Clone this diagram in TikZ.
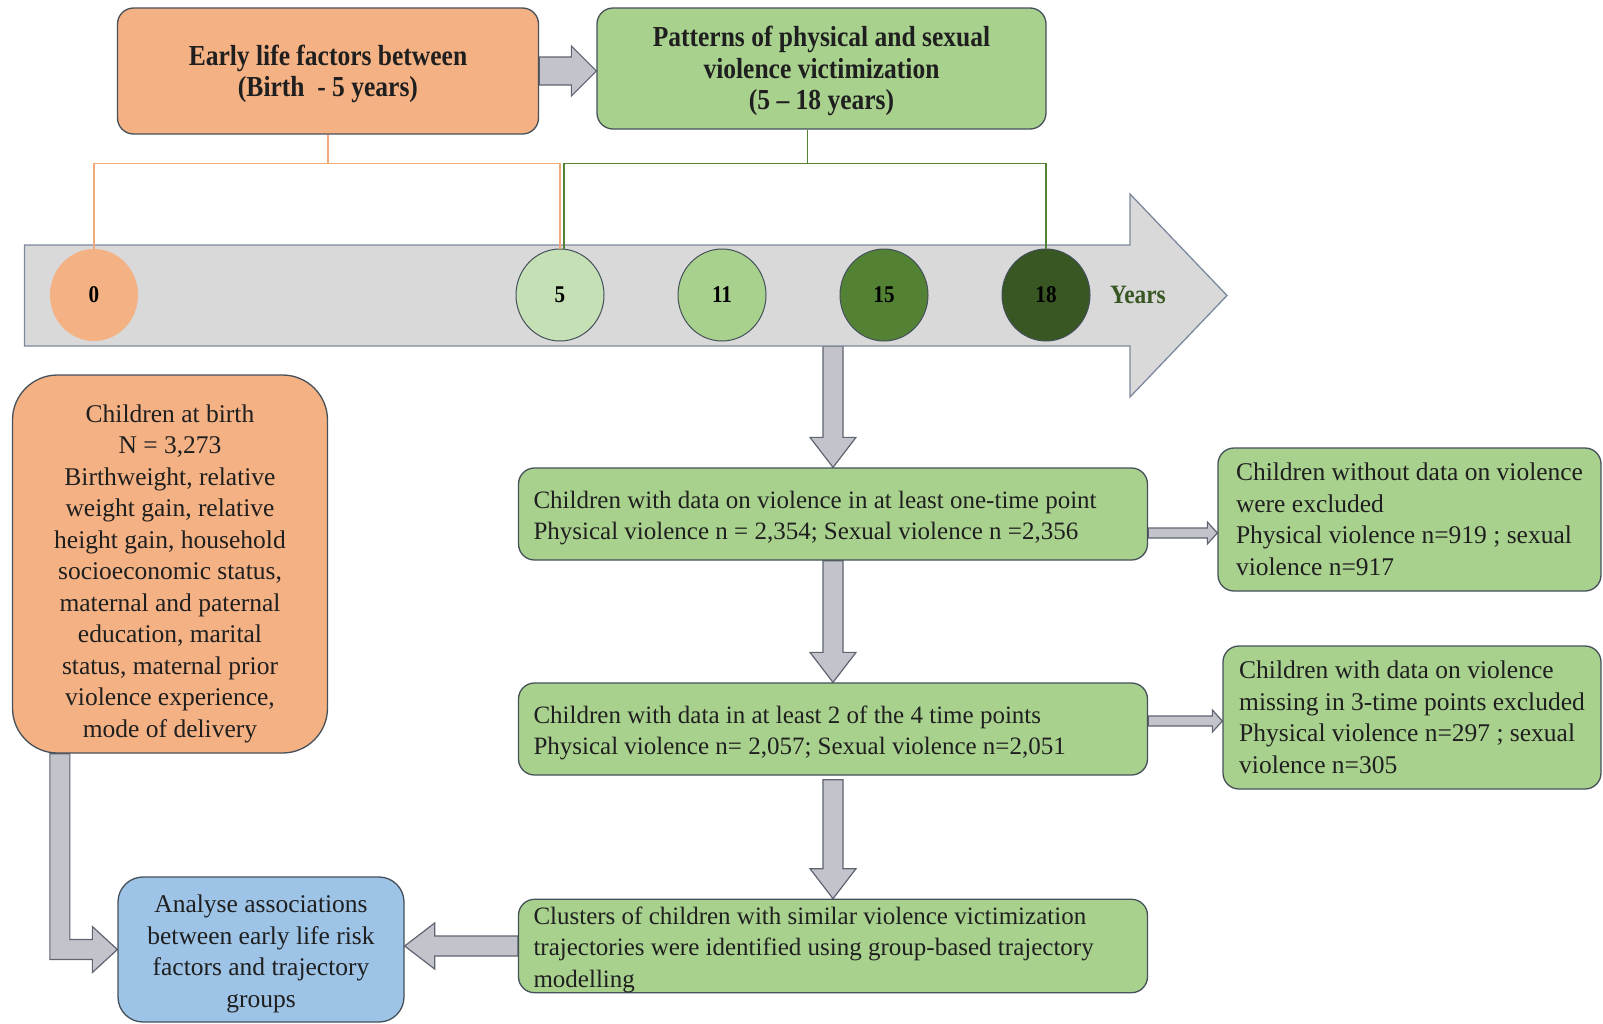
\documentclass[tikz,border=0pt]{standalone}
\usepackage{fontspec}
\setmainfont{Liberation Serif}
\newfontfamily\headfont[FakeStretch=0.88]{Liberation Serif}
\usetikzlibrary{shapes.geometric, positioning, calc, backgrounds}
\definecolor{early}{HTML}{F4B183}
\definecolor{earlyline}{HTML}{F0AA7A}
\definecolor{pattern}{HTML}{A9D18E}
\definecolor{analysis}{HTML}{9DC3E6}
\definecolor{outline}{HTML}{45505A}
\definecolor{age5}{HTML}{C5E0B4}
\definecolor{age11}{HTML}{A9D18E}
\definecolor{age15}{HTML}{548235}
\definecolor{age18}{HTML}{385723}
\definecolor{timeline}{HTML}{D9D9D9}
\definecolor{timeedge}{HTML}{7C889C}
\definecolor{arrowfill}{HTML}{C3C4CB}
\definecolor{arrowedge}{HTML}{5E6470}

\begin{document}
\begin{tikzpicture}[
            x=1pt, y=-1pt,
            box/.style={rectangle, rounded corners=16pt, draw=outline, line width=1.3pt, text=black!88, inner sep=0pt, font=\fontsize{25.5}{31.5}\selectfont},
            headbox/.style={box, font=\headfont\bfseries\fontsize{29}{31.5}\selectfont, align=center},
            flowbox/.style={box, fill=pattern, minimum width=629pt, minimum height=92pt, text width=599pt, align=flush left, font=\fontsize{25}{31.5}\selectfont},
            exclbox/.style={box, fill=pattern, minimum height=143pt, align=left},
            age/.style={ellipse, minimum width=88pt, minimum height=92pt, draw=outline, line width=1pt, inner sep=0pt, font=\headfont\bfseries\fontsize{24}{28}\selectfont},
            blockarrow/.style={draw=arrowedge, fill=arrowfill, line width=1.2pt, line join=miter},
            bracket/.style={line width=1.2pt}
        ]
            \useasboundingbox (0,0) rectangle (1603,1023);

            % Timeline
            \draw[draw=timeedge, fill=timeline, line width=1.3pt] (24.5,245) -- (1130,245) -- (1130,194) -- (1227,295.5) -- (1130,397) -- (1130,346) -- (24.5,346) -- cycle;
            \coordinate (tlbottom) at (833,346);

            \node[age, fill=early, draw=none] (y0) at (94,295) {0};
            \node[age, fill=age5] (y5) at (560,295) {5};
            \node[age, fill=age11] (y11) at (722,295) {11};
            \node[age, fill=age15] (y15) at (884,295) {15};
            \node[age, fill=age18] (y18) at (1046,295) {18};
            \node[font=\headfont\bfseries\fontsize{26.5}{30}\selectfont, text=age18, right=16pt of y18] (years) {Years};

            % Nodes
            \node[headbox, fill=early, minimum width=421pt, minimum height=126pt] (earlylife) at (328,71) {\rule{0pt}{26pt}Early life factors between\\(Birth\ \ - 5 years)};
            \node[headbox, fill=pattern, minimum width=449pt, minimum height=121pt] (patterns) at (821.5,68.5) {\rule{0pt}{26pt}Patterns of physical and sexual\\violence victimization\\(5 – 18 years)};

            \node[box, fill=early, rounded corners=45pt, minimum width=315pt, minimum height=378pt, align=center] (birth) at (170,564) {\rule{0pt}{37pt}Children at birth\\N = 3,273\\Birthweight, relative\\weight gain, relative\\height gain, household\\socioeconomic status,\\maternal and paternal\\education, marital\\status, maternal prior\\violence experience,\\mode of delivery};
            \node[box, fill=analysis, rounded corners=25pt, minimum width=286pt, minimum height=145pt, align=center] (analyse) at (261,949.5) {\rule{0pt}{26pt}Analyse associations\\between early life risk\\factors and trajectory\\groups};

            \node[flowbox] (atleastone) at (833,514) {\rule{0pt}{25pt}Children with data on violence in at least one-time point\\Physical violence n = 2,354; Sexual violence n =2,356};
            \node[flowbox] (atleasttwo) at (833,729) {\rule{0pt}{25pt}Children with data in at least 2 of the 4 time points\\Physical violence n= 2,057; Sexual violence n=2,051};
            \node[flowbox] (clusters) at (833,946) {\rule{0pt}{25pt}Clusters of children with similar violence victimization\\trajectories were identified using group-based trajectory\\modelling};

            \node[exclbox, minimum width=383pt] (excl1) at (1409.5,519.5) {Children without data on violence\\were excluded\\Physical violence n=919 ; sexual\\violence n=917};
            \node[exclbox, minimum width=378pt] (excl2) at (1412,717.5) {Children with data on violence\\missing in 3-time points excluded\\Physical violence n=297 ; sexual\\violence n=305};

            % Brackets
            \draw[bracket, draw=earlyline] (y0.north) |- ($(earlylife.south)+(0,29)$) -| (y5.north) (earlylife.south) -- ++(0,29);
            \draw[bracket, draw=age15] ([xshift=4pt]y5.north) |- ($(patterns.south)+(-14,34)$) -| (y18.north) (patterns.south) ++(-14,0) -- ++(0,34);

            % Arrows
            \begin{scope}[on background layer]
            \draw[blockarrow] ($(earlylife.east)+(0,-14)$) -- ($(patterns.west |- earlylife.east)+(-25,-14)$) -- ++(0,-11) -- (patterns.west |- earlylife.east) -- ++(-25,25) -- ++(0,-11) -- ($(earlylife.east)+(0,14)$) -- cycle;

            \draw[blockarrow] ($(tlbottom)+(-10,0)$) |- ($(atleastone.north)+(-23,-30)$) -- (atleastone.north) -- ++(23,-30) -- ++(-13,0) -- ($(tlbottom)+(10,0)$) -- cycle;
            \draw[blockarrow] ($(atleastone.south)+(-10,0)$) |- ($(atleasttwo.north)+(-23,-30)$) -- (atleasttwo.north) -- ++(23,-30) -- ++(-13,0) -- ($(atleastone.south)+(10,0)$) -- cycle;
            \draw[blockarrow] ($(atleasttwo.south)+(-10,4)$) |- ($(clusters.north)+(-23,-30)$) -- (clusters.north) -- ++(23,-30) -- ++(-13,0) -- ($(atleasttwo.south)+(10,4)$) -- cycle;

            \draw[blockarrow] ($(atleastone.east)+(0,14)$) -- ($(excl1.west |- atleastone.east)+(-10,14)$) -- ++(0,-6) -- ($(excl1.west |- atleastone.east)+(0,19)$) -- ++(-10,11) -- ++(0,-6) -- ($(atleastone.east)+(0,24)$) -- cycle;
            \draw[blockarrow] ($(atleasttwo.east)+(0,-13)$) -- ($(excl2.west |- atleasttwo.east)+(-10,-13)$) -- ++(0,-6) -- ($(excl2.west |- atleasttwo.east)+(0,-8)$) -- ++(-10,11) -- ++(0,-6) -- ($(atleasttwo.east)+(0,-3)$) -- cycle;

            \draw[blockarrow] ($(clusters.west)+(0,-10)$) -- ($(analyse.east |- clusters.west)+(30,-10)$) -- ++(0,-13) -- (analyse.east |- clusters.west) -- ++(30,23) -- ++(0,-13) -- ($(clusters.west)+(0,10)$) -- cycle;
            \draw[blockarrow] ($(birth.south west)+(38,0)$) |- ($(analyse.west)+(-25,10)$) -- ++(0,13) -- (analyse.west) -- ++(-25,-23) -- ++(0,13) -| ($(birth.south west)+(58,0)$) -- cycle;
            \end{scope}
        \end{tikzpicture}
\end{document}
